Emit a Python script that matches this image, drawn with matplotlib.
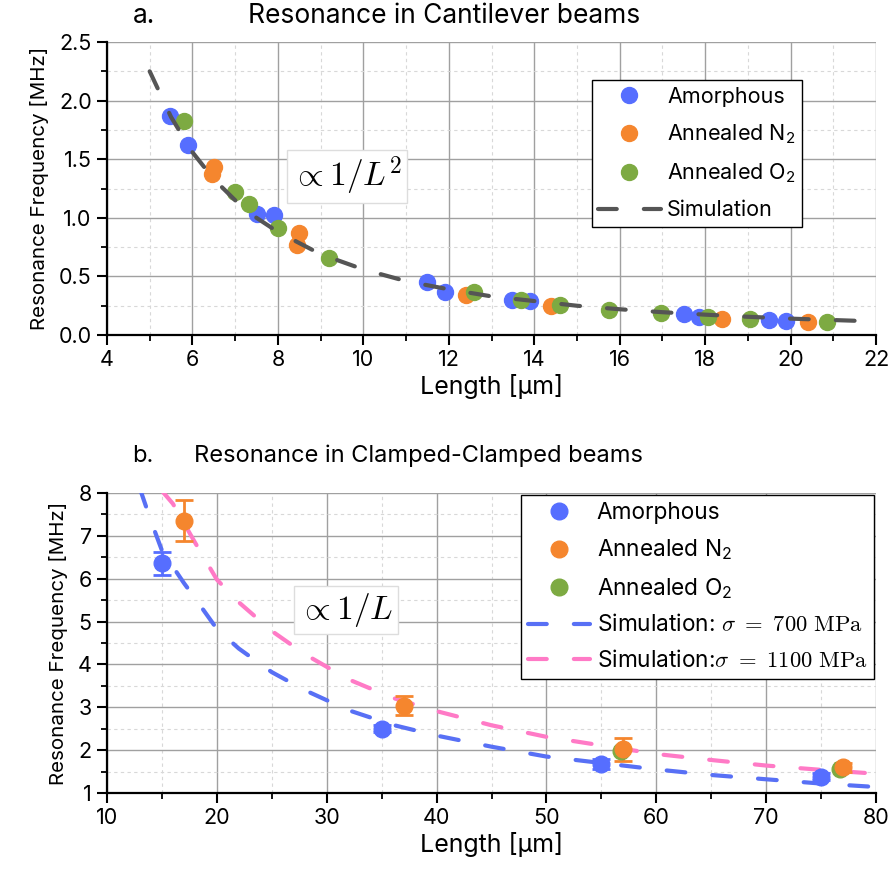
import matplotlib
matplotlib.use("Agg")
import matplotlib.pyplot as plt
from matplotlib.ticker import MultipleLocator, FormatStrFormatter

plt.rcParams['font.family'] = ['Inter', 'DejaVu Sans']
plt.rcParams['mathtext.fontset'] = 'cm'

# colours
c_amor = '#566EFF'
c_n2 = '#F5862E'
c_o2 = '#7DAA42'
c_sim = '#555555'
c_sim700 = '#5870F5'
c_sim1100 = '#FF7AC6'

# ---- a. cantilever data ----
cant_amor_L = [5.48, 5.9, 7.5, 7.9, 11.5, 11.9, 13.48, 13.9, 17.5, 17.85, 19.5, 19.9]
cant_amor_f = [1.87, 1.62, 1.03, 1.02, 0.45, 0.37, 0.30, 0.29, 0.18, 0.15, 0.13, 0.12]
cant_n2_L = [6.5, 6.45, 8.5, 8.45, 12.4, 14.4, 18.4, 20.4]
cant_n2_f = [1.43, 1.37, 0.87, 0.77, 0.34, 0.25, 0.14, 0.11]
cant_o2_L = [5.8, 7.0, 7.33, 8.0, 9.2, 12.6, 13.7, 14.6, 15.75, 16.97, 18.07, 19.06, 20.85]
cant_o2_f = [1.83, 1.22, 1.12, 0.91, 0.66, 0.37, 0.30, 0.26, 0.21, 0.19, 0.15, 0.14, 0.11]
cant_sim_L = [5, 5.5, 6, 6.5, 7, 7.5, 8, 9, 10, 11, 12, 13, 14, 15, 16, 17, 18, 19, 20, 21, 22]
cant_sim_f = [2.25, 1.86, 1.56, 1.33, 1.15, 1.0, 0.88, 0.69, 0.56, 0.46, 0.39, 0.33, 0.29,
              0.25, 0.22, 0.195, 0.174, 0.156, 0.14, 0.128, 0.116]

# ---- b. clamped-clamped data ----
cc_amor_L = [15, 35, 55, 75]
cc_amor_f = [6.36, 2.5, 1.68, 1.38]
cc_amor_err = [0.27, 0.08, 0.12, 0.08]
cc_n2_L = [17, 37, 57, 77]
cc_n2_f = [7.35, 3.04, 2.02, 1.6]
cc_n2_err = [0.48, 0.22, 0.27, 0.1]
cc_o2_L = [56.8, 76.7]
cc_o2_f = [1.98, 1.57]
sim700_L = [13, 14, 15, 16, 17, 18, 20, 22, 25, 28, 32, 36, 40, 45, 50, 55, 60, 65, 70, 75, 80]
sim700_f = [8.1, 7.35, 6.66, 6.28, 5.9, 5.55, 4.83, 4.37, 3.82, 3.4, 2.93, 2.59, 2.34, 2.08,
            1.85, 1.70, 1.55, 1.42, 1.32, 1.22, 1.14]
sim1100_L = [15, 16, 17, 18, 20, 22, 25, 28, 32, 36, 40, 45, 50, 55, 60, 65, 70, 75, 80]
sim1100_f = [8.05, 7.75, 7.3, 6.85, 5.98, 5.45, 4.78, 4.24, 3.65, 3.22, 2.91, 2.58, 2.31,
             2.11, 1.91, 1.77, 1.64, 1.54, 1.45]

fig = plt.figure(figsize=(8.93, 8.81), dpi=100)
ax1 = fig.add_axes([0.1198, 0.6197, 0.8612, 0.3326])
ax2 = fig.add_axes([0.1198, 0.0999, 0.8612, 0.3405])

dash = (4.5, 6.5)
leg_kw = dict(frameon=True, fancybox=False, edgecolor='black', framealpha=1,
              borderpad=0.3, handletextpad=0.3, borderaxespad=0)


def style_axes(ax):
    for s in ['top', 'right']:
        ax.spines[s].set_visible(False)
    for s in ['left', 'bottom']:
        ax.spines[s].set_linewidth(1.6)
    ax.grid(which='major', color='#a0a0a0', lw=1.0, ls='-')
    ax.grid(which='minor', color='#d8d8d8', lw=0.8, ls=(0, (3, 3)))
    ax.set_axisbelow(True)
    ax.tick_params(which='major', direction='out', length=7, width=1.5, labelsize=15.5, pad=4)
    ax.tick_params(which='minor', direction='out', length=4.5, width=1.3)
    ax.set_xlabel('Length [µm]', fontsize=18, labelpad=3)
    ax.set_ylabel('Resonance Frequency [MHz]', fontsize=14.8, labelpad=7)


# a.
ms = 11.5
p1, = ax1.plot(cant_amor_L, cant_amor_f, 'o', color=c_amor, ms=ms, zorder=3)
p2, = ax1.plot(cant_n2_L, cant_n2_f, 'o', color=c_n2, ms=ms, zorder=3)
p3, = ax1.plot(cant_o2_L, cant_o2_f, 'o', color=c_o2, ms=ms, zorder=3)
p4, = ax1.plot(cant_sim_L, cant_sim_f, color=c_sim, lw=3.0, dashes=dash, dash_capstyle='round',
               zorder=4)
ax1.set_xlim(4, 22)
ax1.set_ylim(0, 2.5)
ax1.xaxis.set_major_locator(MultipleLocator(2))
ax1.xaxis.set_minor_locator(MultipleLocator(1))
ax1.yaxis.set_major_locator(MultipleLocator(0.5))
ax1.yaxis.set_minor_locator(MultipleLocator(0.25))
ax1.yaxis.set_major_formatter(FormatStrFormatter('%.1f'))
style_axes(ax1)
ax1.text(9.62, 1.35, r'$\propto 1/L^2$', fontsize=24, ha='center', va='center',
         bbox=dict(boxstyle='square,pad=0.15', fc='white', ec='#dddddd', lw=1))
leg1 = ax1.legend([p1, p2, p3, p4],
                  ['Amorphous', r'Annealed N$\mathregular{_2}$', r'Annealed O$\mathregular{_2}$', 'Simulation'],
                  loc='upper right', bbox_to_anchor=(0.904, 0.87), fontsize=15.5,
                  handlelength=2.9, labelspacing=0.72, **leg_kw)
leg1.get_frame().set_linewidth(1.0)

# b.
ms2 = 12
e1 = ax2.errorbar(cc_amor_L, cc_amor_f, yerr=cc_amor_err, fmt='o', color=c_amor, ms=ms2,
                  capsize=6.5, elinewidth=2, capthick=2, zorder=3)
e2 = ax2.errorbar(cc_n2_L, cc_n2_f, yerr=cc_n2_err, fmt='o', color=c_n2, ms=ms2,
                  capsize=6.5, elinewidth=2, capthick=2, zorder=3)
q3, = ax2.plot(cc_o2_L, cc_o2_f, 'o', color=c_o2, ms=ms2, zorder=3)
q4, = ax2.plot(sim700_L, sim700_f, color=c_sim700, lw=3.0, dashes=dash, dash_capstyle='round',
               zorder=2)
q5, = ax2.plot(sim1100_L, sim1100_f, color=c_sim1100, lw=3.0, dashes=dash, dash_capstyle='round',
               zorder=2)
ax2.set_xlim(10, 80)
ax2.set_ylim(1, 8)
ax2.xaxis.set_major_locator(MultipleLocator(10))
ax2.xaxis.set_minor_locator(MultipleLocator(5))
ax2.yaxis.set_major_locator(MultipleLocator(1))
ax2.yaxis.set_minor_locator(MultipleLocator(0.5))
style_axes(ax2)
ax2.text(31.75, 5.27, r'$\propto 1/L$', fontsize=24, ha='center', va='center',
         bbox=dict(boxstyle='square,pad=0.14', fc='white', ec='#dddddd', lw=1))
leg2 = ax2.legend([e1[0], e2[0], q3, q4, q5],
                  ['Amorphous', r'Annealed N$\mathregular{_2}$', r'Annealed O$\mathregular{_2}$',
                   r'Simulation: $\sigma\ =\ 700\ \mathrm{MPa}$',
                   r'Simulation:$\sigma\ =\ 1100\ \mathrm{MPa}$'],
                  loc='upper right', bbox_to_anchor=(0.9974, 0.993), fontsize=16.3,
                  handlelength=2.75, labelspacing=0.6, **leg_kw)
leg2.get_frame().set_linewidth(1.0)

# titles
fig.text(133 / 893, 1 - 16 / 881, 'a.', fontsize=19, ha='left', va='center')
fig.text(444 / 893, 1 - 16 / 881, 'Resonance in Cantilever beams', fontsize=19, ha='center', va='center')
fig.text(132 / 893, 1 - 456 / 881, 'b.', fontsize=17, ha='left', va='center')
fig.text(418 / 893, 1 - 456 / 881, 'Resonance in Clamped-Clamped beams', fontsize=17, ha='center', va='center')

fig.savefig('out.png', dpi=100)
